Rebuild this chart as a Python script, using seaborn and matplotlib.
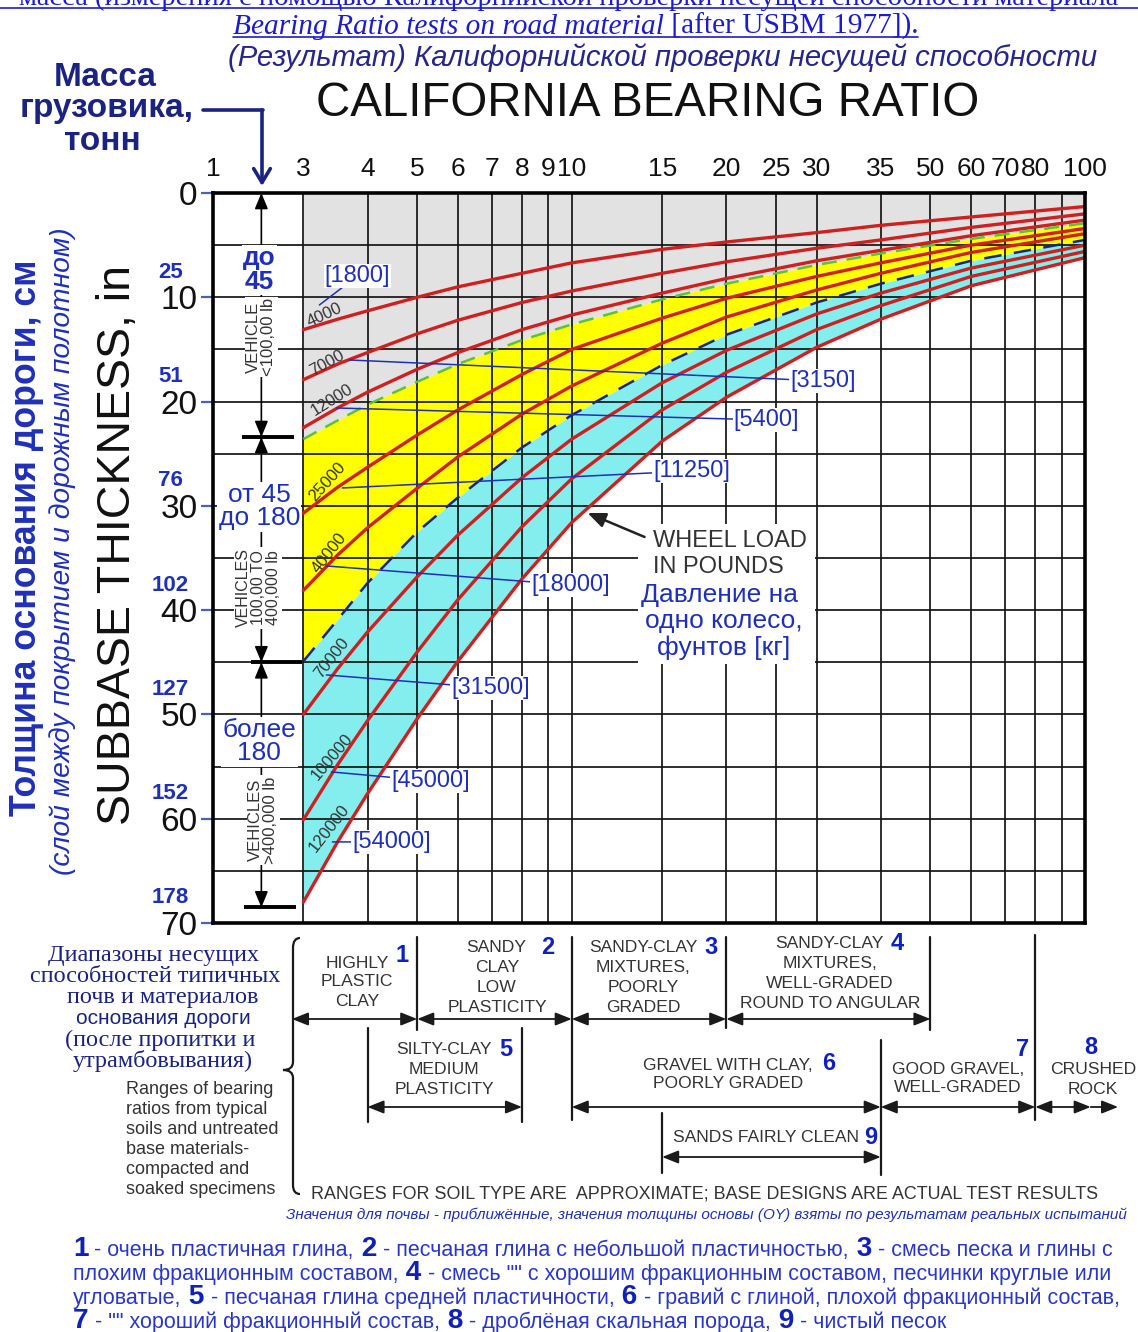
import numpy as np
import pandas as pd
import seaborn as sns
import matplotlib
matplotlib.use("Agg")
import matplotlib.pyplot as plt
from matplotlib import transforms
from matplotlib.lines import Line2D
from matplotlib.patches import PathPatch, Rectangle, FancyArrowPatch
from matplotlib.path import Path
from matplotlib.ticker import NullLocator

W, H = 1138, 1332

# ---- values ----
# CBR (x) and subbase thickness in inches (y) for each wheel-load curve
cbr_pts = [3, 3.5, 4, 5, 6, 8, 10, 15, 20, 30, 40, 60, 100]
load_4000 = [13.1, 12.1, 11.3, 10.0, 9.0, 7.7, 6.7, 5.4, 4.7, 3.8, 3.1, 2.3, 1.3]
load_7000 = [17.9, 16.4, 15.3, 13.5, 12.2, 10.5, 9.4, 7.7, 6.6, 5.3, 4.5, 3.3, 2.0]
load_12000 = [22.5, 20.6, 19.1, 16.9, 15.3, 13.1, 11.7, 9.6, 8.2, 6.5, 5.5, 4.1, 2.6]
load_25000 = [30.7, 28.2, 26.3, 23.2, 20.8, 17.4, 15.0, 12.0, 10.1, 8.0, 6.7, 5.0, 3.4]
load_40000 = [38.1, 34.7, 32.1, 28.3, 25.3, 21.2, 18.5, 14.4, 11.9, 9.3, 7.7, 5.7, 3.9]
load_70000 = [50.0, 45.6, 42.1, 36.8, 32.8, 27.3, 23.6, 18.2, 15.1, 11.6, 9.6, 7.2, 5.0]
load_100000 = [60.1, 54.8, 50.6, 44.0, 39.0, 32.0, 27.4, 20.8, 17.2, 13.1, 10.8, 8.0, 5.6]
load_120000 = [68.0, 62.2, 57.6, 50.4, 44.9, 37.0, 31.6, 23.8, 19.6, 14.8, 12.1, 8.9, 6.2]
light_limit = [23.6, 21.8, 20.3, 18.1, 16.4, 14.1, 12.6, 10.2, 8.7, 6.9, 5.8, 4.4, 2.9]
heavy_limit = [44.9, 40.9, 37.4, 32.5, 29.2, 24.4, 21.3, 16.5, 13.6, 10.5, 8.7, 6.5, 4.5]

curves = [load_4000, load_7000, load_12000, load_25000,
          load_40000, load_70000, load_100000, load_120000]
load_lb = ["4000", "7000", "12000", "25000", "40000", "70000", "100000", "120000"]
load_kg = ["[1800]", "[3150]", "[5400]", "[11250]", "[18000]", "[31500]", "[45000]", "[54000]"]

x_ticks = [2, 3, 4, 5, 6, 7, 8, 9, 10, 15, 20, 25, 30, 40, 50, 60, 70, 80, 90, 100]
x_labels = ["1", "3", "4", "5", "6", "7", "8", "9", "10", "15", "20", "25",
            "30", "35", "50", "60", "70", "80", "", "100"]
y_ticks = [0, 10, 20, 30, 40, 50, 60, 70]
cm_labels = ["25", "51", "76", "102", "127", "152", "178"]

vehicle_bounds = [0, 23.4, 45.0, 68.5]

# soil type CBR ranges (1..9)
soil_lo = [2.85, 5, 10, 20, 4, 10, 40, 80, 15]
soil_hi = [5, 10, 20, 50, 8, 40, 80, 102.6, 40]

RED = "#d01f1f"
BLUE = "#1f2fb8"
NAVY = "#1b2380"
GRAY = "#333333"
LINK = "#1c1ccc"

sns.set_theme(style="white")
SANS = ["Liberation Sans", "DejaVu Sans"]
NARROW = ["Liberation Sans Narrow", "Liberation Sans", "DejaVu Sans"]
SERIF = ["Liberation Serif", "DejaVu Serif"]
plt.rcParams["font.family"] = SANS

fig = plt.figure(figsize=(W / 100, H / 100), dpi=100)
ax = fig.add_axes([213 / W, 1 - 923 / H, (1085 - 213) / W, (923 - 193) / H])
R = fig.canvas.get_renderer()


def dx(px):
    # pixel column -> CBR on the chart's log axis
    return 3 * 10 ** ((px - 304) / 513)


def dy(py):
    return (py - 193) / 10.43


def fy(py):
    return 1 - py / H


def ftext(px, py, s, size, **kw):
    kw.setdefault("ha", "center")
    kw.setdefault("va", "center")
    return fig.text(px / W, fy(py), s, fontsize=size, **kw)


def fit(t, length, vertical=False):
    bb = t.get_window_extent(R)
    cur = bb.height if vertical else bb.width
    t.set_fontsize(t.get_fontsize() * length / cur)
    return t


def rich_line(x, y, parts, size, target=None, **kw):
    texts = []
    for s, st in parts:
        st = dict(st)
        sc = st.pop("scale", 1)
        texts.append(fig.text(0, fy(y), s, fontsize=size * sc, va="baseline", ha="left", **st, **kw))

    def layout():
        cx = x
        for t in texts:
            t.set_x(cx / W)
            cx += t.get_window_extent(R).width
        return cx - x

    total = layout()
    f = 1.0
    if target:
        f = target / total
        for t in texts:
            t.set_fontsize(t.get_fontsize() * f)
        layout()
    return f


# ---- fills ----
ax.fill_between(cbr_pts, 0, light_limit, color="#e2e2e2", lw=0)
ax.fill_between(cbr_pts, light_limit, heavy_limit, color="#ffff00", lw=0)
ax.fill_between(cbr_pts, heavy_limit, load_120000, color="#84eeee", lw=0)

# ---- curves ----
df = pd.DataFrame({
    "cbr": np.tile(cbr_pts, len(curves)),
    "thickness": np.concatenate(curves),
    "load": np.repeat(load_lb, len(cbr_pts)),
})
sns.lineplot(data=df, x="cbr", y="thickness", hue="load", palette=[RED] * len(load_lb),
             estimator=None, sort=False, lw=2.4, legend=False, ax=ax)
sns.lineplot(x=cbr_pts, y=light_limit, color="#5cc23a", lw=1.8, linestyle=(0, (6, 4)), ax=ax)
sns.lineplot(x=cbr_pts, y=heavy_limit, color=NAVY, lw=1.8, linestyle=(0, (7, 5)), ax=ax)

# ---- axes ----
ax.set_xscale("log")
ax.set_xlim(2, 100)
ax.set_ylim(70, 0)
ax.set_xticks(x_ticks)
ax.set_xticklabels(x_labels)
ax.xaxis.set_minor_locator(NullLocator())
ax.set_yticks(y_ticks)
ax.set_yticks(range(5, 70, 10), minor=True)
ax.set_xlabel("")
ax.set_ylabel("")
ax.set_axisbelow("line")
ax.grid(True, which="both", color="#151515", lw=1.25)
ax.tick_params(axis="x", which="major", length=0, pad=9, labelsize=19, top=True,
               labeltop=True, bottom=False, labelbottom=False, colors="#111111")
ax.tick_params(axis="y", which="major", length=9, width=1.6, color="#5060b0",
               labelsize=24, pad=2, left=True, labelcolor="#111111")
ax.tick_params(axis="y", which="minor", length=0)
for s in ax.spines.values():
    s.set_linewidth(2.6)
    s.set_color("black")

bl = transforms.blended_transform_factory(ax.transAxes, ax.transData)
for t, lab in zip(y_ticks[1:], cm_labels):
    ax.text(-0.049, t - 2.4, lab, transform=bl, ha="center", va="center",
            fontsize=16, fontweight="bold", color=BLUE, clip_on=False)

# ---- vehicle column ----
xc = dx(262)
for y0, y1 in zip(vehicle_bounds[:-1], vehicle_bounds[1:]):
    ax.annotate("", xy=(xc, y0), xytext=(xc, y1),
                arrowprops=dict(arrowstyle="<|-|>,head_length=0.6,head_width=0.25", color="black",
                                lw=1.2, mutation_scale=16, shrinkA=0, shrinkB=0),
                annotation_clip=False, zorder=4)
for b, a0, a1 in zip(vehicle_bounds[1:], [243, 252, 245], [295, 303, 297]):
    ax.plot([dx(a0), dx(a1)], [b, b], color="black", lw=2.8, solid_capstyle="butt", zorder=4)

box = dict(fc="white", ec="none", pad=1)
ax.text(dx(260), dy(270), "до\n45", ha="center", va="center", fontsize=19, fontweight="bold",
        color=BLUE, linespacing=0.95, bbox=box, zorder=5)
ax.text(dx(262), dy(337), "VEHICLE\n<100,00 lb", rotation=90, ha="center", va="center",
        fontsize=12, color=GRAY, linespacing=1.0, bbox=box, zorder=5)
ax.text(dx(260), dy(507), "от 45\nдо 180", ha="center", va="center", fontsize=19,
        color=BLUE, linespacing=0.95, bbox=box, zorder=5)
ax.text(dx(259), dy(588), "VEHICLES\n100,00 TO\n400,000 lb", rotation=90, ha="center",
        va="center", fontsize=11.5, color=GRAY, linespacing=1.0, bbox=box, zorder=5)
ax.text(dx(260), dy(742), "более\n180", ha="center", va="center", fontsize=19,
        color=BLUE, linespacing=0.95, bbox=box, zorder=5)
ax.text(dx(264), dy(820), "VEHICLES\n>400,000 lb", rotation=90, ha="center", va="center",
        fontsize=12, color=GRAY, linespacing=1.0, bbox=box, zorder=5)

# ---- curve labels ----
lb_pos = [(325, 315, 25), (328, 363, 29), (333, 400, 32), (328, 482, 48),
          (330, 553, 52), (332, 658, 52), (333, 757, 50), (330, 828, 52)]
for lab, (px, py, rot) in zip(load_lb, lb_pos):
    ax.text(dx(px), dy(py), lab, rotation=rot, rotation_mode="anchor", ha="center",
            va="center", fontsize=12, color=GRAY, zorder=6)

kg_pos = [(358, 276), (823, 381), (767, 420), (692, 471), (571, 585), (491, 688), (431, 781), (392, 842)]
kg_from = [(320, 305), (350, 360), (337, 408), (343, 488), (327, 566), (327, 675), (332, 772), (333, 842)]
for lab, (px, py), (sx, sy) in zip(load_kg, kg_pos, kg_from):
    ax.annotate(lab, xy=(dx(sx), dy(sy)), xytext=(dx(px), dy(py)), ha="center", va="center",
                fontsize=17, color=BLUE, bbox=dict(fc="white", ec="none", pad=0.5),
                arrowprops=dict(arrowstyle="-", color=BLUE, lw=1.1, shrinkA=0, shrinkB=0),
                zorder=5)

# wheel load note
ax.add_patch(Rectangle((dx(638), dy(524)), dx(815) - dx(638), dy(664) - dy(524),
                       fc="white", ec="none", zorder=1.8))
ax.annotate("", xy=(dx(588), dy(513)), xytext=(dx(645), dy(537)),
            arrowprops=dict(arrowstyle="-|>,head_length=0.6,head_width=0.25", color="#222222",
                            lw=1.8, mutation_scale=18, shrinkA=0, shrinkB=0), zorder=5)
ax.text(dx(653), dy(541), "WHEEL LOAD", ha="left", va="center", fontsize=17, color=GRAY, zorder=5)
ax.text(dx(653), dy(567), "IN POUNDS", ha="left", va="center", fontsize=17, color=GRAY, zorder=5)
for s, px, py in [("Давление на", 720, 595), ("одно колесо,", 724, 621), ("фунтов [кг]", 724, 648)]:
    ax.text(dx(px), dy(py), s, ha="center", va="center", fontsize=19, color=BLUE, zorder=5)

# ---- titles ----
t = fig.text(569 / W, fy(5), "масса (измерения с помощью Калифорнийской проверки несущей способности материала",
             ha="center", va="baseline", fontsize=20.5, color=LINK, family=SERIF)
fig.add_artist(Line2D([0, 1], [fy(8), fy(8)], color=LINK, lw=1.2))
rich_line(233, 34, [("Bearing Ratio tests on road material", dict(fontstyle="italic")),
                    (" [after USBM 1977]).", {})], 20.5, target=685, color=LINK, family=SERIF)
fig.add_artist(Line2D([233 / W, 918 / W], [fy(37), fy(37)], color=LINK, lw=1.2))

fit(ftext(663, 58, "(Результат) Калифорнийской проверки несущей способности", 23,
          fontstyle="italic", color="#25258a", family=NARROW), 870)
fit(ftext(648, 103, "CALIFORNIA BEARING RATIO", 34, color="#111111"), 665)

for s, px, py in [("Масса", 105, 77), ("грузовика,", 107, 108), ("тонн", 102, 141)]:
    ftext(px, py, s, 24, fontweight="bold", color=NAVY, family=NARROW)
fig.add_artist(Line2D([203 / W, 263 / W], [fy(110), fy(110)], color=NAVY, lw=2.6))
fig.add_artist(FancyArrowPatch((262 / W, fy(110)), (262 / W, fy(186)), transform=fig.transFigure,
                               arrowstyle="->,head_length=0.5,head_width=0.3", mutation_scale=20,
                               color=NAVY, lw=2.6, shrinkA=0, shrinkB=0))

# ---- y titles ----
fit(ftext(118, 545, "SUBBASE THICKNESS, in", 33, rotation=90, color="#111111"), 560, vertical=True)
fit(ftext(27, 538, "Толщина основания дороги, см", 25, rotation=90, fontweight="bold",
          color=BLUE, family=NARROW), 555, vertical=True)
fit(ftext(63, 551, "(слой между покрытием и дорожным полотном)", 18, rotation=90,
          fontstyle="italic", color=BLUE, family=NARROW), 647, vertical=True)

# ---- soil ranges ----
bt = transforms.blended_transform_factory(ax.transData, fig.transFigure)
rows = [1019, 1019, 1019, 1019, 1107, 1107, 1107, 1107, 1157]
astyle = "<|-|>,head_length=0.55,head_width=0.22"
for lo, hi, row in zip(soil_lo, soil_hi, rows):
    fig.add_artist(FancyArrowPatch((lo, fy(row)), (hi, fy(row)), transform=bt, arrowstyle=astyle,
                                   mutation_scale=18, color="#1a1a1a", lw=1.3, shrinkA=0, shrinkB=0))
fig.add_artist(FancyArrowPatch((soil_hi[7], fy(1107)), (116, fy(1107)), transform=bt,
                               arrowstyle="-|>,head_length=0.55,head_width=0.22",
                               mutation_scale=18, color="#1a1a1a", lw=1.3, shrinkA=0, shrinkB=0))
seps = [(5, 937, 1030), (10, 937, 1120), (20, 937, 1028), (50, 937, 1030), (4, 1028, 1122),
        (8, 1028, 1122), (40, 1040, 1175), (80, 935, 1120), (15, 1113, 1173)]
for c, a, b in seps:
    fig.add_artist(Line2D([c, c], [fy(a), fy(b)], transform=bt, color="#1a1a1a", lw=1.6))

# brace
bx, tip = 293, 283
pts = [(300, 938), (bx, 938), (bx, 948), (bx, 1062), (bx, 1070), (tip, 1070),
       (bx, 1070), (bx, 1078), (bx, 1185), (bx, 1194), (300, 1194)]
codes = [Path.MOVETO, Path.CURVE3, Path.CURVE3, Path.LINETO, Path.CURVE3, Path.CURVE3,
         Path.CURVE3, Path.CURVE3, Path.LINETO, Path.CURVE3, Path.CURVE3]
fig.add_artist(PathPatch(Path([(p / W, fy(q)) for p, q in pts], codes), fill=False,
                         ec="#1a1a1a", lw=1.6, transform=fig.transFigure))

soil_txt = [("HIGHLY", 357, 963), ("PLASTIC", 357, 982), ("CLAY", 357, 1002),
            ("SANDY", 496, 947), ("CLAY", 497, 967), ("LOW", 497, 987), ("PLASTICITY", 497, 1007),
            ("SANDY-CLAY", 643, 947), ("MIXTURES,", 643, 967), ("POORLY", 643, 987), ("GRADED", 643, 1007),
            ("SANDY-CLAY", 829, 944), ("MIXTURES,", 830, 964), ("WELL-GRADED", 830, 984),
            ("ROUND TO ANGULAR", 830, 1003),
            ("SILTY-CLAY", 444, 1050), ("MEDIUM", 444, 1070), ("PLASTICITY", 444, 1089),
            ("GRAVEL WITH CLAY,", 728, 1065), ("POORLY GRADED", 728, 1084),
            ("GOOD GRAVEL,", 958, 1069), ("WELL-GRADED", 958, 1088),
            ("CRUSHED", 1093, 1070), ("ROCK", 1093, 1090),
            ("SANDS FAIRLY CLEAN", 766, 1138)]
for s, px, py in soil_txt:
    ftext(px, py, s, 12.6, color=GRAY)
soil_num = [("1", 402, 956), ("2", 548, 948), ("3", 711, 947), ("4", 897, 944), ("5", 506, 1050),
            ("6", 829, 1063), ("7", 1023, 1050), ("8", 1091, 1047), ("9", 871, 1138)]
for s, px, py in soil_num:
    ftext(px, py, s, 17, fontweight="bold", color="#1020c0")

fit(ftext(705, 1194, "RANGES FOR SOIL TYPE ARE  APPROXIMATE; BASE DESIGNS ARE ACTUAL TEST RESULTS",
          13.5, color=GRAY), 786)
fit(ftext(706, 1215, "Значения для почвы - приближённые, значения толщины основы (OY) взяты "
          "по результатам реальных испытаний", 11, fontstyle="italic", color=BLUE, family=NARROW), 841)

for s, px, py in [("Диапазоны несущих", 153, 955), ("способностей типичных", 155, 977),
                  ("почв и материалов", 163, 998), ("(после пропитки и", 160, 1040),
                  ("утрамбовывания)", 163, 1061)]:
    ftext(px, py, s, 17.5, color=NAVY, family=SERIF)
ftext(163, 1018, "основания дороги", 15, color=NAVY, family=NARROW)
for s, py in [("Ranges of bearing", 1090), ("ratios from typical", 1110), ("soils and untreated", 1130),
              ("base materials-", 1149), ("compacted and", 1169), ("soaked specimens", 1189)]:
    ftext(126, py, s, 13, ha="left", color=GRAY)

# ---- bottom legend ----
N = dict(fontweight="bold", color="#1020b8", scale=1.3)
T = dict(color="#2a36c8")
lines = [
    [("1", N), (" - очень пластичная глина,", T), (" 2", N),
     (" - песчаная глина с небольшой пластичностью,", T), (" 3", N), (" - смесь песка и глины с", T)],
    [("плохим фракционным составом,", T), (" 4", N),
     (' - смесь "" с хорошим фракционным составом, песчинки круглые или', T)],
    [("угловатые,", T), (" 5", N), (" - песчаная глина средней пластичности,", T), (" 6", N),
     (" - гравий с глиной, плохой фракционный состав,", T)],
    [("7", N), (' - "" хороший фракционный состав,', T), (" 8", N),
     (" - дроблёная скальная порода,", T), (" 9", N), (" - чистый песок", T)],
]
base = 15
f = rich_line(73, 1256, lines[0], base, target=1047, family=NARROW)
for ln, by in zip(lines[1:], [1280, 1304, 1328]):
    rich_line(73, by, ln, base * f, family=NARROW)

fig.savefig("out.png", dpi=100)
